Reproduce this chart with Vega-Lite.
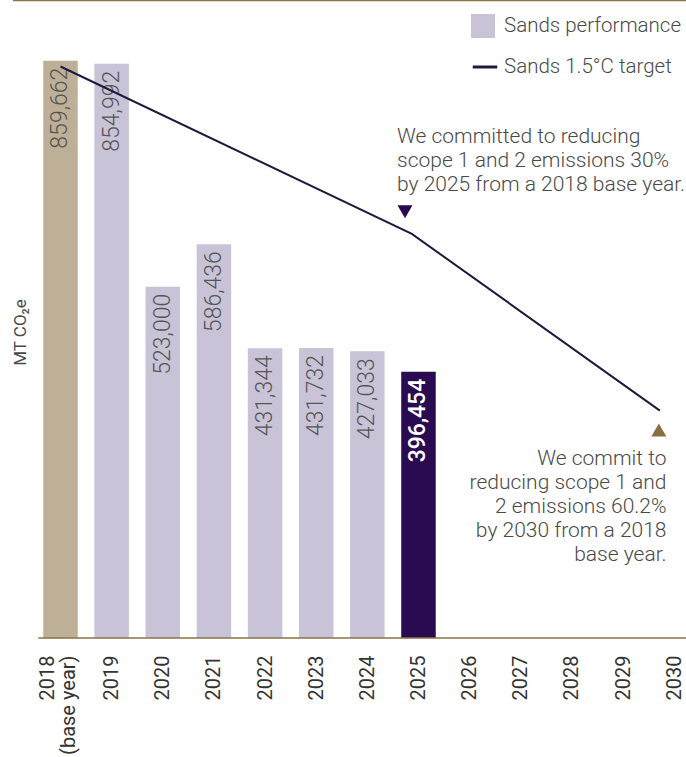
{
  "$schema": "https://vega.github.io/schema/vega-lite/v6.json",
  "width": 686,
  "height": 638,
  "autosize": {"type": "none"},
  "padding": {"left": 0, "top": 0, "right": 0, "bottom": 119},
  "background": "white",
  "config": {"view": {"stroke": null}, "font": "Roboto", "axis": {"grid": false}},
  "data": {"values": [{}]},
  "datasets": {
    "perf": [
      {"year": 2018, "value": 859662, "kind": "Base year"},
      {"year": 2019, "value": 854992, "kind": "Sands performance"},
      {"year": 2020, "value": 523000, "kind": "Sands performance"},
      {"year": 2021, "value": 586436, "kind": "Sands performance"},
      {"year": 2022, "value": 431344, "kind": "Sands performance"},
      {"year": 2023, "value": 431732, "kind": "Sands performance"},
      {"year": 2024, "value": 427033, "kind": "Sands performance"},
      {"year": 2025, "value": 396454, "kind": "Current year"}
    ],
    "target": [
      {"year": 2018, "value": 851000},
      {"year": 2024.87, "value": 601763},
      {"year": 2029.72, "value": 338500}
    ]
  },
  "layer": [
    {
      "mark": {"type": "rule", "color": "#8a7345", "strokeWidth": 2.5},
      "encoding": {
        "x": {"datum": 2017.07, "type": "quantitative", "scale": {"domain": [2016.817, 2030.231], "nice": false, "zero": false, "padding": 0}},
        "x2": {"datum": 2030.231},
        "y": {"datum": 950000, "type": "quantitative"}
      }
    },
    {
      "data": {"name": "perf"},
      "mark": {"type": "bar", "width": 34.5},
      "encoding": {
        "x": {
          "field": "year", "type": "quantitative",
          "scale": {"domain": [2016.817, 2030.231], "nice": false, "zero": false, "padding": 0},
          "axis": {
            "title": null,
            "values": [2018, 2019, 2020, 2021, 2022, 2023, 2024, 2025, 2026, 2027, 2028, 2029, 2030],
            "format": "d",
            "domain": false, "ticks": false, "grid": false,
            "labelAngle": 270, "labelAlign": "right", "labelBaseline": "middle",
            "labelPadding": 17, "labelFontSize": 20, "labelColor": "#333333",
            "labelExpr": "datum.value == 2018 ? ['2018', '(base year)'] : datum.label",
            "labelOffset": {"condition": {"test": "datum.value == 2018", "value": -13}, "value": 0},
            "labelOverlap": false, "labelFlush": false, "labelBound": false,
            "labelLineHeight": 21
          }
        },
        "y": {
          "field": "value", "type": "quantitative",
          "scale": {"domain": [0, 950000], "nice": false, "padding": 0},
          "axis": {
            "title": "MT CO₂e",
            "domain": false, "ticks": false, "labels": false, "grid": false,
            "titleX": 20, "titleY": 332, "titleAngle": 270,
            "titleBaseline": "middle", "titleAlign": "center",
            "titleFont": "Liberation Sans Narrow, Roboto",
            "titleFontSize": 17, "titleFontWeight": "normal", "titleColor": "#4a4a4a"
          }
        },
        "fill": {
          "field": "kind", "type": "nominal",
          "scale": {"domain": ["Base year", "Sands performance", "Current year"], "range": ["#bdb096", "#c9c3d7", "#2a0b52"]},
          "legend": {
            "orient": "none", "legendX": 471, "legendY": 14, "title": null,
            "values": ["Sands performance"], "symbolType": "square", "symbolSize": 576,
            "symbolStrokeWidth": 0, "labelFontSize": 20.5, "labelFontWeight": 300, "labelColor": "#4a4a4a",
            "labelOffset": 9, "labelLimit": 400, "padding": 0
          }
        }
      }
    },
    {
      "data": {"name": "perf"},
      "transform": [{"filter": "datum.year != 2025"}],
      "mark": {"type": "text", "angle": 270, "align": "right", "baseline": "middle", "dx": -7, "fontSize": 23, "fontWeight": 300, "color": "#555555"},
      "encoding": {
        "x": {"field": "year", "type": "quantitative"},
        "y": {"field": "value", "type": "quantitative"},
        "text": {"field": "value", "type": "quantitative", "format": ","}
      }
    },
    {
      "data": {"name": "perf"},
      "transform": [{"filter": "datum.year == 2025"}],
      "mark": {"type": "text", "angle": 270, "align": "right", "baseline": "middle", "dx": -7, "fontSize": 23, "fontWeight": 500, "color": "#ffffff"},
      "encoding": {
        "x": {"field": "year", "type": "quantitative"},
        "y": {"field": "value", "type": "quantitative"},
        "text": {"field": "value", "type": "quantitative", "format": ","}
      }
    },
    {
      "data": {"name": "target"},
      "mark": {"type": "line", "strokeWidth": 2},
      "encoding": {
        "x": {"field": "year", "type": "quantitative"},
        "y": {"field": "value", "type": "quantitative"},
        "stroke": {
          "datum": "Sands 1.5°C target",
          "scale": {"range": ["#1e1a3e"]},
          "legend": {
            "orient": "none", "legendX": 471, "legendY": 53, "title": null,
            "symbolType": "stroke", "symbolSize": 600, "symbolStrokeWidth": 3,
            "labelFontSize": 20.5, "labelFontWeight": 300, "labelColor": "#4a4a4a", "labelOffset": 5, "labelLimit": 400, "padding": 0
          }
        }
      }
    },
    {
      "mark": {"type": "point", "shape": "triangle-down", "filled": true, "color": "#2a0b52", "size": 225, "opacity": 1},
      "encoding": {
        "x": {"datum": 2024.736, "type": "quantitative"},
        "y": {"datum": 634770, "type": "quantitative"}
      }
    },
    {
      "mark": {"type": "point", "shape": "triangle-up", "filled": true, "color": "#8a7040", "size": 225, "opacity": 1},
      "encoding": {
        "x": {"datum": 2029.7, "type": "quantitative"},
        "y": {"datum": 309700, "type": "quantitative"}
      }
    },
    {
      "mark": {"type": "text", "align": "left", "baseline": "alphabetic", "fontSize": 21, "fontWeight": 300, "lineHeight": 24, "color": "#4a4a4a",
        "text": ["We committed to reducing", "scope 1 and 2 emissions 30%", "by 2025 from a 2018 base year."]},
      "encoding": {
        "x": {"datum": 2024.58, "type": "quantitative"},
        "y": {"datum": 736600, "type": "quantitative"}
      }
    },
    {
      "mark": {"type": "text", "align": "right", "baseline": "alphabetic", "fontSize": 21, "fontWeight": 300, "lineHeight": 24, "color": "#4a4a4a",
        "text": ["We commit to", "reducing scope 1 and", "2 emissions 60.2%", "by 2030 from a 2018", "base year."]},
      "encoding": {
        "x": {"datum": 2029.85, "type": "quantitative"},
        "y": {"datum": 257600, "type": "quantitative"}
      }
    },
    {
      "mark": {"type": "rule", "color": "#8a7345", "strokeWidth": 1.5},
      "encoding": {
        "x": {"datum": 2017.566, "type": "quantitative"},
        "x2": {"datum": 2030.231},
        "y": {"datum": 0, "type": "quantitative"}
      }
    }
  ]
}
